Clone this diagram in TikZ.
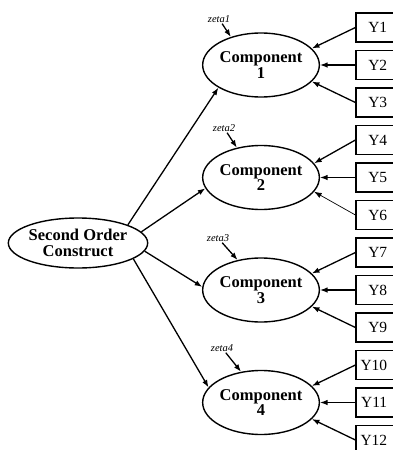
\documentclass[tikz,border=0pt]{standalone}
\usepackage{fontspec}
\setmainfont{Liberation Serif}
\usetikzlibrary{arrows.meta,shapes.geometric}
\begin{document}
\begin{tikzpicture}[x=1pt,y=-1pt,
  latent/.style={draw, ellipse, line width=1.4pt, inner sep=0pt, align=center,
    font=\fontsize{16.5}{15.5}\selectfont\bfseries},
  comp/.style={latent, minimum width=106pt, minimum height=64pt},
  indicator/.style={draw, rectangle, line width=1.2pt, minimum width=46pt,
    minimum height=29pt, inner sep=0pt},
  ylab/.style={anchor=east, inner sep=0pt, font=\fontsize{15.5}{16}\selectfont},
  zlab/.style={inner sep=1pt, font=\fontsize{10.5}{12}\selectfont\itshape},
  link/.style={-{Latex[length=7.5pt,width=5.5pt]}, line width=1.3pt},
]
\useasboundingbox (0,0) rectangle (392,450);

% second order construct and its four components
\node[latent, minimum width=136pt, minimum height=50pt] (soc) at (78,243) {Second Order\\Construct};
\node[comp] (c1) at (261,65)    {Component\\1};
\node[comp] (c2) at (261,177.5) {Component\\2};
\node[comp] (c3) at (261,290)   {Component\\3};
\node[comp] (c4) at (261,402.5) {Component\\4};

% observed indicators Y1..Y12
\foreach \i in {1,...,12} {
  \node[indicator] (y\i) at (379,{27.5+37.5*(\i-1)}) {};
  \node[ylab] (t\i) at ([xshift=32pt]y\i.west) {Y\i};
}

% disturbance terms
\node[zlab] (z1) at (219,19)  {zeta1};
\node[zlab] (z2) at (224,128) {zeta2};
\node[zlab] (z3) at (218,238) {zeta3};
\node[zlab] (z4) at (222,348) {zeta4};

\draw[link] (z1) -- (c1.137);
\draw[link] (z2) -- (c2.129);
\draw[link] (z3) -- (c3.128);
\draw[link] (z4) -- (c4.123);

% structural paths
\draw[link] (soc.20)  -- (c1.208);
\draw[link] (soc.10)  -- (c2.191);
\draw[link] (soc.-7)  -- (c3.177);
\draw[link] (soc.-16) -- (c4.164);

% measurement paths
\draw[link] (y1.west)  -- (c1.18);
\draw[link] (y2.west)  -- (c1.0);
\draw[link] (y3.west)  -- (c1.-18);
\draw[link] (y4.west)  -- (c2.15);
\draw[link] (y5.west)  -- (c2.0);
\draw[link, line width=0.7pt] (y6.west) -- (c2.-15);
\draw[link] (y7.west)  -- (c3.18);
\draw[link] (y8.west)  -- (c3.0);
\draw[link] (y9.west)  -- (c3.-18);
\draw[link] (y10.west) -- (c4.18);
\draw[link] (y11.west) -- (c4.0);
\draw[link] (y12.west) -- (c4.-18);
\end{tikzpicture}
\end{document}
